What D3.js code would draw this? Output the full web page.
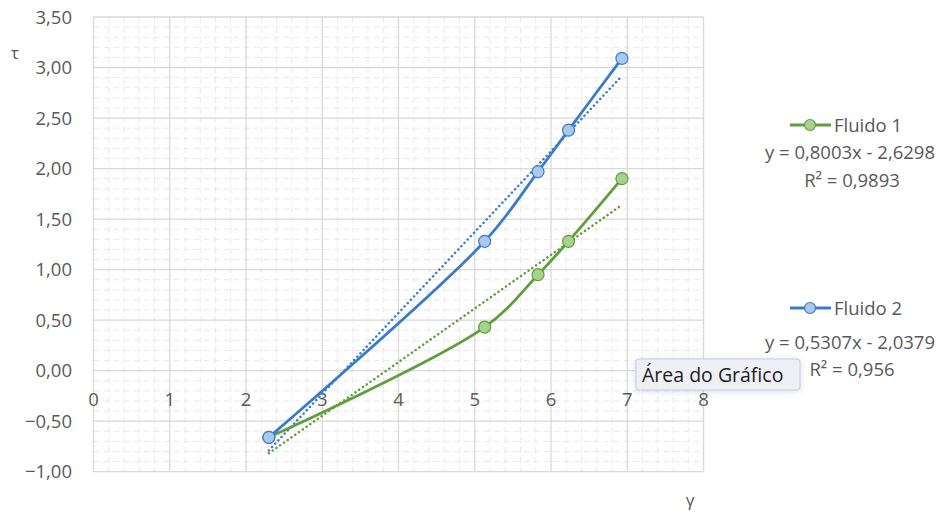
<!DOCTYPE html>
<html>
<head>
<meta charset="utf-8">
<script src="https://cdn.jsdelivr.net/npm/d3@7"></script>
<style>
  html, body { margin: 0; padding: 0; background: #fff; }
  svg { display: block; font-family: "Open Sans", "Noto Sans", sans-serif; }
</style>
</head>
<body>
<svg id="chart" width="944" height="515"></svg>
<script>
// ---- data ----
const xValues = [2.30, 5.13, 5.83, 6.23, 6.93];           // γ
const fluido1 = [-0.66, 0.43, 0.95, 1.28, 1.90];          // τ, green series
const fluido2 = [-0.66, 1.28, 1.97, 2.38, 3.09];          // τ, blue series
const trendGreen = [0.5307, -2.0379];                     // slope, intercept
const trendBlue = [0.8003, -2.6298];
const xTicks = [0, 1, 2, 3, 4, 5, 6, 7, 8];
const yTicks = [-1, -0.5, 0, 0.5, 1, 1.5, 2, 2.5, 3, 3.5];
const seriesNames = ["Fluido 1", "Fluido 2"];
const equations = ["y = 0,8003x - 2,6298", "y = 0,5307x - 2,0379"];
const r2Labels = ["R² = 0,9893", "R² = 0,956"];
const xTitle = "γ", yTitle = "τ";
const tooltipText = "Área do Gráfico";

const svg = d3.select("#chart");
const x = d3.scaleLinear().domain([0, 8]).range([93.5, 703.5]);
const y = d3.scaleLinear().domain([-1, 3.5]).range([471.7, 17]);
const fmt = v => d3.format(".2f")(v).replace(".", ",");

const txt = "#595959";
const green = "#5f9e3c", greenFill = "#a9d18e";
const blue = "#3a7bc8", blueFill = "#a9c8ec";

// minor gridlines
const g = svg.append("g");
const xMinor = d3.range(0, 8.0001, 0.2).filter(v => Math.abs(v - Math.round(v)) > 1e-6);
const yMinor = d3.range(-1, 3.5001, 0.1).filter(v => Math.abs(v * 2 - Math.round(v * 2)) > 1e-6);
g.selectAll(".mx").data(xMinor).join("line")
  .attr("x1", d => x(d)).attr("x2", d => x(d)).attr("y1", y(3.5)).attr("y2", y(-1))
  .attr("stroke", "#e9e9e9").attr("stroke-width", 1).attr("stroke-dasharray", "6,4");
g.selectAll(".my").data(yMinor).join("line")
  .attr("y1", d => y(d)).attr("y2", d => y(d)).attr("x1", x(0)).attr("x2", x(8))
  .attr("stroke", "#e9e9e9").attr("stroke-width", 1).attr("stroke-dasharray", "6,4");
// major gridlines
g.selectAll(".Mx").data(xTicks).join("line")
  .attr("x1", d => x(d)).attr("x2", d => x(d)).attr("y1", y(3.5)).attr("y2", y(-1))
  .attr("stroke", "#d9d9d9").attr("stroke-width", 1.3);
g.selectAll(".My").data(yTicks).join("line")
  .attr("y1", d => y(d)).attr("y2", d => y(d)).attr("x1", x(0)).attr("x2", x(8))
  .attr("stroke", "#d9d9d9").attr("stroke-width", 1.3);

// tick labels
svg.append("g").selectAll("text").data(yTicks).join("text")
  .attr("x", 72).attr("y", d => y(d)).attr("dy", "0.36em")
  .attr("text-anchor", "end").attr("font-size", 18.5).attr("fill", txt)
  .text(fmt);
svg.append("g").selectAll("text").data(xTicks).join("text")
  .attr("x", d => x(d)).attr("y", y(0) + 29).attr("dy", "0.36em")
  .attr("text-anchor", "middle").attr("font-size", 18.5).attr("fill", txt)
  .text(d => d);

// axis titles
svg.append("text").attr("x", 15).attr("y", 53).attr("dy", "0.36em")
  .attr("text-anchor", "middle").attr("font-size", 17).attr("fill", txt).text(yTitle);
svg.append("text").attr("x", 690).attr("y", 500).attr("dy", "0.36em")
  .attr("text-anchor", "middle").attr("font-size", 17).attr("fill", txt).text(xTitle);

// trendlines
const xr = d3.extent(xValues);
function trend(coef, color) {
  svg.append("line")
    .attr("x1", x(xr[0])).attr("y1", y(coef[0] * xr[0] + coef[1]))
    .attr("x2", x(xr[1])).attr("y2", y(coef[0] * xr[1] + coef[1]))
    .attr("stroke", color).attr("stroke-width", 2.5)
    .attr("stroke-dasharray", "0.1,4.5").attr("stroke-linecap", "round");
}
trend(trendGreen, green);
trend(trendBlue, blue);

// series lines (smoothed)
const line = d3.line().x(d => x(d[0])).y(d => y(d[1])).curve(d3.curveCatmullRom.alpha(0.5));
function series(vals, color, fill) {
  const pts = xValues.map((xv, i) => [xv, vals[i]]);
  svg.append("path").datum(pts).attr("d", line)
    .attr("fill", "none").attr("stroke", color).attr("stroke-width", 2.8).attr("stroke-linejoin", "round");
  svg.append("g").selectAll("circle").data(pts).join("circle")
    .attr("cx", d => x(d[0])).attr("cy", d => y(d[1])).attr("r", 6)
    .attr("fill", fill).attr("stroke", color).attr("stroke-width", 1.2);
}
series(fluido1, green, greenFill);
series(fluido2, blue, blueFill);

// legend
const legendRows = [
  { name: seriesNames[0], color: green, fill: greenFill, y: 125, eqY: 152, r2Y: 180 },
  { name: seriesNames[1], color: blue, fill: blueFill, y: 308, eqY: 342, r2Y: 369 }
];
legendRows.forEach((r, i) => {
  svg.append("line").attr("x1", 790).attr("x2", 831).attr("y1", r.y).attr("y2", r.y)
    .attr("stroke", r.color).attr("stroke-width", 2.8);
  svg.append("circle").attr("cx", 810).attr("cy", r.y).attr("r", 5.5)
    .attr("fill", r.fill).attr("stroke", r.color).attr("stroke-width", 1.2);
  svg.append("text").attr("x", 834).attr("y", r.y).attr("dy", "0.36em")
    .attr("font-size", 18.5).attr("fill", txt).text(r.name);
  svg.append("text").attr("x", 850).attr("y", r.eqY).attr("dy", "0.36em")
    .attr("text-anchor", "middle").attr("font-size", 18.5).attr("fill", txt).text(equations[i]);
  svg.append("text").attr("x", 852).attr("y", r.r2Y).attr("dy", "0.36em")
    .attr("text-anchor", "middle").attr("font-size", 18.5).attr("fill", txt).text(r2Labels[i]);
});

// tooltip
const defs = svg.append("defs");
const f = defs.append("filter").attr("id", "sh").attr("x", "-20%").attr("y", "-40%").attr("width", "140%").attr("height", "180%");
f.append("feDropShadow").attr("dx", 0).attr("dy", 1).attr("stdDeviation", 3).attr("flood-color", "#8899bb").attr("flood-opacity", 0.35);
svg.append("rect").attr("x", 636).attr("y", 359).attr("width", 164).attr("height", 31).attr("rx", 3)
  .attr("fill", "#eef0f6").attr("stroke", "#c9cdd8").attr("stroke-width", 1).attr("filter", "url(#sh)");
svg.append("text").attr("x", 642).attr("y", 375).attr("dy", "0.36em")
  .attr("font-size", 19.5).attr("fill", "#222").text(tooltipText);
</script>
</body>
</html>
